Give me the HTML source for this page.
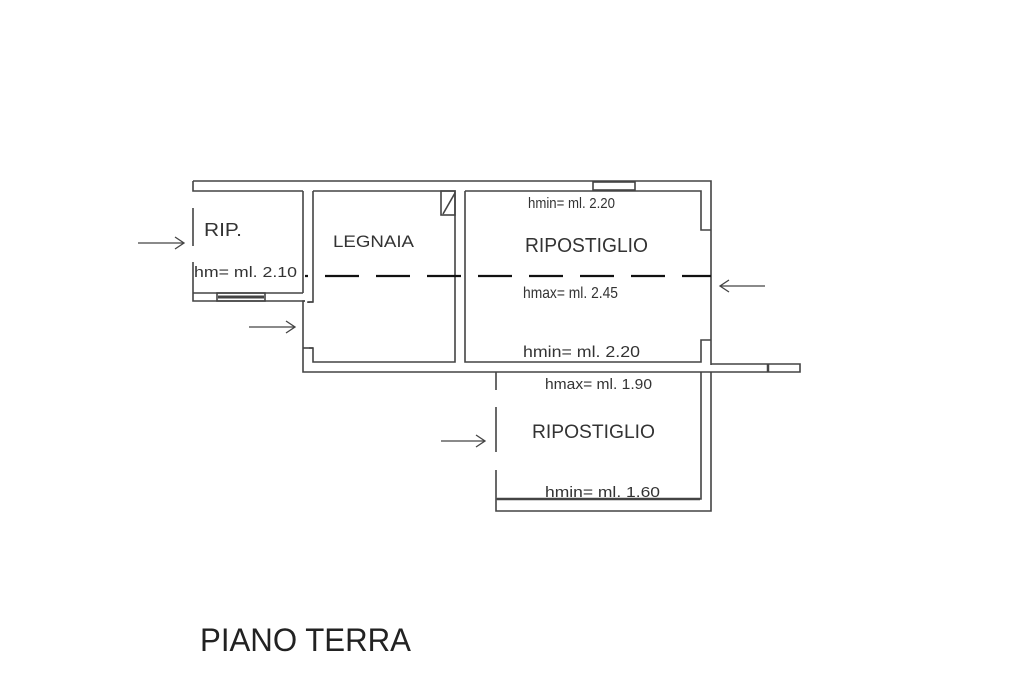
<!DOCTYPE html>
<html><head><style>
html,body{margin:0;padding:0;background:#fff;}
svg{display:block;}
text{font-family:"Liberation Sans",sans-serif;fill:#333;}
</style></head><body>
<svg width="1024" height="683" viewBox="0 0 1024 683" xmlns="http://www.w3.org/2000/svg">
<g fill="none" stroke="#444" stroke-width="1.6">
<path d="M193 181 H711 V365"/>
<path d="M193 181 V191 H303"/>
<rect x="593" y="182" width="42" height="8"/>
<path d="M193 208 V246"/>
<path d="M193 262 V301 H305"/>
<path d="M193 293 H303"/>
<rect x="217" y="293" width="48" height="8"/>
<line x1="218" y1="297" x2="264" y2="297" stroke-width="3"/>
<path d="M303 191 V293"/>
<path d="M305 301 H303 V372 H800 V364 H711"/>
<path d="M313 191 V302 H309 V303 M309 348 H313 V362 H455 V191 H313"/>
<path d="M313 302 H308 V303"/>
<path d="M303 348 H313"/>
<rect x="441" y="191" width="14" height="24"/>
<line x1="443" y1="214" x2="455" y2="193"/>
<path d="M465 191 H701 V230 H711"/>
<path d="M711 340 H701 V362 H465 V191"/>
<line x1="768" y1="364" x2="768" y2="372" stroke-width="2.5"/>
<path d="M496 372 V511 H711 V372"/>
<path d="M701 372 V499 H496"/>
<line x1="497" y1="499" x2="700" y2="499" stroke-width="2.5"/>
</g>
<g stroke="#fff" stroke-width="4">
<line x1="496" y1="390" x2="496" y2="407"/>
<line x1="496" y1="452" x2="496" y2="470"/>
</g>
<line x1="305" y1="276" x2="711" y2="276" stroke="#111" stroke-width="2.2" stroke-dasharray="34 17" stroke-dashoffset="-20"/>
<g fill="none" stroke="#444" stroke-width="1.3">
<path d="M138 243 H183 M175 237 L184 243 L175 249"/>
<path d="M249 327 H294 M286 321 L295 327 L286 333"/>
<path d="M441 441 H484 M476 435 L485 441 L476 447"/>
<path d="M765 286 H721 M729 280 L720 286 L729 292"/>
</g>
<g>
<text x="204" y="236" font-size="18" textLength="38" lengthAdjust="spacingAndGlyphs">RIP.</text>
<text x="194" y="277" font-size="15" textLength="103" lengthAdjust="spacingAndGlyphs">hm= ml. 2.10</text>
<text x="333" y="247" font-size="17" textLength="81" lengthAdjust="spacingAndGlyphs">LEGNAIA</text>
<text x="528" y="208" font-size="15" textLength="87" lengthAdjust="spacingAndGlyphs">hmin= ml. 2.20</text>
<text x="525" y="252" font-size="20" textLength="123" lengthAdjust="spacingAndGlyphs">RIPOSTIGLIO</text>
<text x="523" y="298" font-size="16" textLength="95" lengthAdjust="spacingAndGlyphs">hmax= ml. 2.45</text>
<text x="523" y="357" font-size="16" textLength="117" lengthAdjust="spacingAndGlyphs">hmin= ml. 2.20</text>
<text x="545" y="389" font-size="15" textLength="107" lengthAdjust="spacingAndGlyphs">hmax= ml. 1.90</text>
<text x="532" y="438" font-size="19" textLength="123" lengthAdjust="spacingAndGlyphs">RIPOSTIGLIO</text>
<text x="545" y="497" font-size="15" textLength="115" lengthAdjust="spacingAndGlyphs">hmin= ml. 1.60</text>
<text x="200" y="651" font-size="32" style="fill:#222" textLength="211" lengthAdjust="spacingAndGlyphs">PIANO TERRA</text>
</g>
</svg>
</body></html>
